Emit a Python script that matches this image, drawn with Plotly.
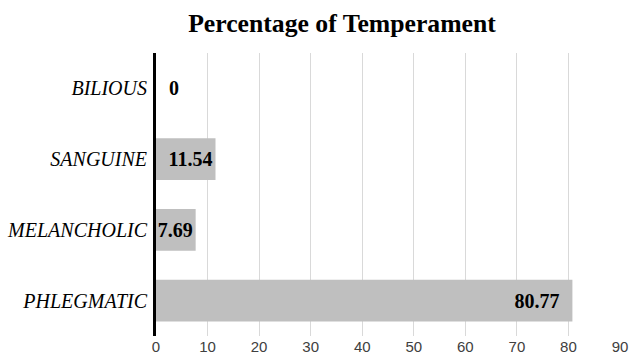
import plotly.graph_objects as go

categories = ["PHLEGMATIC", "MELANCHOLIC", "SANGUINE", "BILIOUS"]
values = [80.77, 7.69, 11.54, 0]
labels = ["80.77", "7.69", "11.54", "0"]
x_ticks = [0, 10, 20, 30, 40, 50, 60, 70, 80, 90]

NB = "\u00a0"
# padding to mimic the reference label placement
text = [labels[0] + NB * 2, labels[1], labels[2], NB * 2 + labels[3]]

fig = go.Figure(go.Bar(
    y=categories, x=values, orientation="h",
    marker=dict(color="#bfbfbf", line=dict(width=0)),
    text=text,
    textposition=["inside", "inside", "inside", "outside"],
    insidetextanchor="end",
    textfont=dict(family="Liberation Serif", size=20, color="black", weight="bold"),
    textangle=0,
    cliponaxis=False,
    width=0.59,
    hoverinfo="skip",
))

fig.update_layout(
    width=629, height=356,
    margin=dict(l=156, r=9, t=53, b=20, autoexpand=False),
    paper_bgcolor="white", plot_bgcolor="white",
    title=dict(text="<b>Percentage of Temperament</b>", x=342 / 629, xanchor="center",
               y=1 - 23 / 356, yanchor="middle",
               font=dict(family="Liberation Serif", size=25.7, color="black")),
    uniformtext=dict(minsize=20, mode="show"),
    showlegend=False,
    xaxis=dict(range=[0, 90], tickvals=x_ticks, showgrid=True, gridcolor="#d9d9d9",
               gridwidth=1, zeroline=False, showline=False, ticks="", automargin=False,
               tickfont=dict(family="Liberation Sans", size=15, color="#404040")),
    yaxis=dict(showline=True, linecolor="black", linewidth=3, ticks="", automargin=False,
               showgrid=False, ticklabelstandoff=2,
               tickfont=dict(family="Liberation Serif", size=20, color="black", style="italic")),
)

fig.write_html(
    "out.html",
    config={"displayModeBar": False},
    post_script="document.body.style.margin='0';document.body.style.overflow='hidden';",
)
